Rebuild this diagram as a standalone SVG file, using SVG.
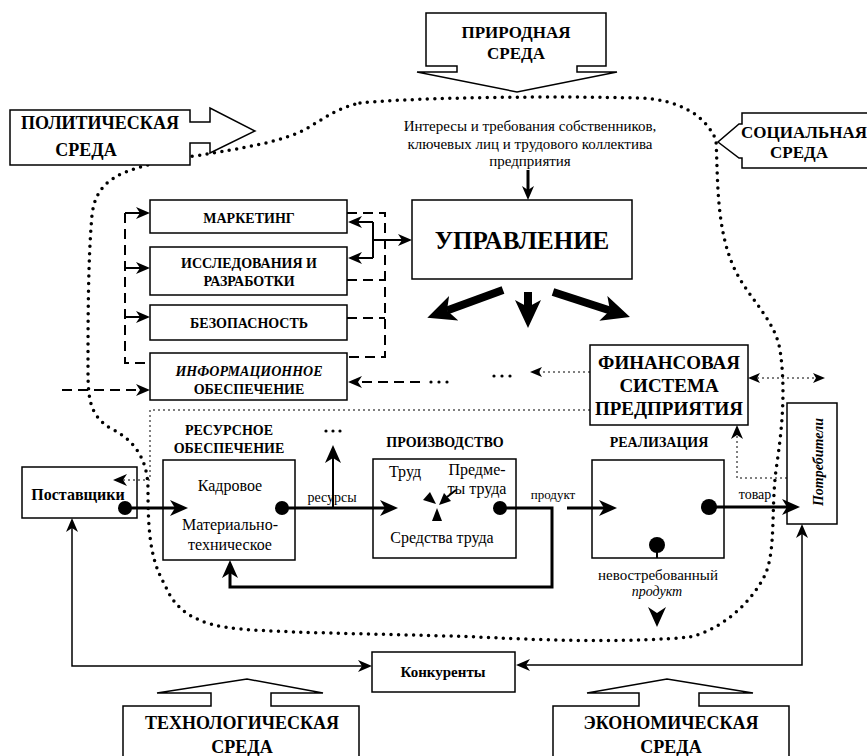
<svg xmlns="http://www.w3.org/2000/svg" width="867" height="756" viewBox="0 0 867 756">
<style>
.box{fill:#fff;stroke:#000;stroke-width:1.5}
.shape{fill:#fff;stroke:#000;stroke-width:1.5;stroke-linejoin:miter}
.t{font-family:"Liberation Serif","Times New Roman",serif;fill:#000}
.b{font-weight:bold}
.i{font-style:italic}
.c{text-anchor:middle}
.dash{fill:none;stroke:#000;stroke-width:2;stroke-dasharray:10 6}
.dot{fill:none;stroke:#000;stroke-width:1;stroke-dasharray:2 3}
.thick{fill:none;stroke:#000;stroke-width:3}
.mid{fill:none;stroke:#000;stroke-width:2}
.thin{fill:none;stroke:#000;stroke-width:1.5}
.big{fill:none;stroke:#000;stroke-width:8}
.blob{fill:none;stroke:#000;stroke-width:3.5;stroke-dasharray:0 7.5;stroke-linecap:round}
.blk{fill:#000;stroke:none}
</style>
<defs>
<marker id="mL" markerUnits="userSpaceOnUse" markerWidth="18" markerHeight="16" refX="5" refY="8" orient="auto-start-reverse"><path d="M0,0 L18,8 L0,16 L5,8 z" fill="#000"/></marker>
<marker id="mM" markerUnits="userSpaceOnUse" markerWidth="14" markerHeight="12" refX="4" refY="6" orient="auto-start-reverse"><path d="M0,0 L14,6 L0,12 L4,6 z" fill="#000"/></marker>
<marker id="mS" markerUnits="userSpaceOnUse" markerWidth="12" markerHeight="10" refX="3" refY="5" orient="auto-start-reverse"><path d="M0,0 L12,5 L0,10 L3,5 z" fill="#000"/></marker>
<marker id="mBig" markerUnits="userSpaceOnUse" markerWidth="28" markerHeight="26" refX="7" refY="13" orient="auto"><path d="M0,0 L28,13 L0,26 L7,13 z" fill="#000"/></marker>
</defs>
<rect width="867" height="756" fill="#fff"/>

<g id="boundary">
<path class="blob" d="M360,103 C420,97 560,96 640,98 C680,100 705,115 716,140 C718,180 716,230 735,270 C750,300 775,320 780,350 C786,390 782,430 776,470 C771,510 776,550 765,575 C750,605 720,630 690,637 C640,642 560,641 500,638 C420,634 300,634 240,629 C195,625 175,610 165,585 C150,560 148,530 148,490 C148,460 135,440 110,428 C90,415 88,400 88,370 C88,320 88,260 92,215 C96,180 120,170 170,160 C230,150 270,145 300,132 C320,122 335,108 360,103 Z"/>
</g>

<g id="n-prirod">
<path class="shape" d="M426,13 H606 V66 H577 V72 H617 L517,92 L417,72 H457 V66 H426 Z"/>
<text class="t b c" x="516" y="38" font-size="17">ПРИРОДНАЯ</text>
<text class="t b c" x="516" y="59" font-size="17">СРЕДА</text>
</g>
<g id="n-polit">
<path class="shape" d="M10,110 H190 V122 H210 V108 L255,131 L210,153 V143 H190 V165 H10 Z"/>
<text class="t b c" x="100" y="129" font-size="18">ПОЛИТИЧЕСКАЯ</text>
<text class="t b c" x="86" y="156" font-size="18">СРЕДА</text>
</g>
<g id="n-social">
<path class="shape" d="M870,113 H742 V124 H739 L718,142 L739,158 H742 V168 H870 Z"/>
<text class="t b c" x="804" y="138" font-size="17">СОЦИАЛЬНАЯ</text>
<text class="t b c" x="799" y="158" font-size="17">СРЕДА</text>
</g>
<g id="n-tech">
<path class="shape" d="M123,760 V706 H211 V693 H157 L247,679 L323,693 H271 V706 H359 V760 Z"/>
<text class="t b c" x="242" y="729" font-size="18">ТЕХНОЛОГИЧЕСКАЯ</text>
<text class="t b c" x="242" y="753" font-size="18">СРЕДА</text>
</g>
<g id="n-econ">
<path class="shape" d="M553,760 V706 H639 V693 H587 L667,679 L753,693 H699 V706 H789 V760 Z"/>
<text class="t b c" x="671" y="729" font-size="18">ЭКОНОМИЧЕСКАЯ</text>
<text class="t b c" x="671" y="753" font-size="18">СРЕДА</text>
</g>

<g id="n-interests">
<text class="t c" x="530" y="131" font-size="15">Интересы и требования собственников,</text>
<text class="t c" x="530" y="149" font-size="15">ключевых лиц и трудового коллектива</text>
<text class="t c" x="530" y="166" font-size="15">предприятия</text>
</g>

<g id="n-upr">
<rect class="box" x="412" y="200" width="220" height="79"/>
<text class="t b c" x="522" y="249" font-size="25">УПРАВЛЕНИЕ</text>
</g>
<g id="n-mark">
<rect class="box" x="150" y="200" width="197" height="33"/>
<text class="t b c" x="249" y="223" font-size="14">МАРКЕТИНГ</text>
</g>
<g id="n-issl">
<rect class="box" x="150" y="247" width="197" height="48"/>
<text class="t b c" x="249" y="268" font-size="14">ИССЛЕДОВАНИЯ И</text>
<text class="t b c" x="249" y="286" font-size="14">РАЗРАБОТКИ</text>
</g>
<g id="n-bez">
<rect class="box" x="150" y="305" width="197" height="35"/>
<text class="t b c" x="249" y="328" font-size="14">БЕЗОПАСНОСТЬ</text>
</g>
<g id="n-inform">
<rect class="box" x="150" y="353" width="197" height="47"/>
<text class="t b i c" x="249" y="376" font-size="14">ИНФОРМАЦИОННОЕ</text>
<text class="t b c" x="249" y="394" font-size="14">ОБЕСПЕЧЕНИЕ</text>
</g>
<g id="n-fin">
<rect class="box" x="590" y="345" width="158" height="80"/>
<text class="t b c" x="669" y="369" font-size="19">ФИНАНСОВАЯ</text>
<text class="t b c" x="669" y="392" font-size="19">СИСТЕМА</text>
<text class="t b c" x="669" y="415" font-size="19">ПРЕДПРИЯТИЯ</text>
</g>

<g id="n-post">
<rect class="box" x="22" y="467" width="115" height="51"/>
<text class="t b c" x="78" y="500" font-size="16">Поставщики</text>
</g>
<g id="n-res">
<text class="t b c" x="229" y="435" font-size="14">РЕСУРСНОЕ</text>
<text class="t b c" x="229" y="453" font-size="14">ОБЕСПЕЧЕНИЕ</text>
<rect class="box" x="163" y="460" width="132" height="100"/>
<text class="t c" x="230" y="491" font-size="16">Кадровое</text>
<text class="t c" x="230" y="530" font-size="16">Материально-</text>
<text class="t c" x="230" y="550" font-size="16">техническое</text>
</g>
<g id="n-prod">
<text class="t b c" x="445" y="447" font-size="14">ПРОИЗВОДСТВО</text>
<rect class="box" x="373" y="459" width="143" height="99"/>
<text class="t c" x="405" y="477" font-size="16">Труд</text>
<text class="t c" x="477" y="475" font-size="16">Предме-</text>
<text class="t c" x="477" y="494" font-size="16">ты труда</text>
<text class="t c" x="442" y="543" font-size="16">Средства труда</text>
<polygon class="blk" points="436,504 423,500 430,492"/>
<line class="mid" x1="447" y1="497" x2="456" y2="490"/>
<polygon class="blk" points="439,505 451,501 444,493"/>
<polygon class="blk" points="437,508 432,521 442,521"/>
</g>
<g id="n-real">
<text class="t b c" x="659" y="447" font-size="14">РЕАЛИЗАЦИЯ</text>
<rect class="box" x="592" y="460" width="132" height="98"/>
</g>
<g id="n-potr">
<rect class="box" x="787" y="403" width="50" height="121"/>
<text class="t b i c" transform="translate(823,462) rotate(-90)" x="0" y="0" font-size="14">Потребители</text>
</g>
<g id="n-konk">
<rect class="box" x="372" y="652" width="143" height="40"/>
<text class="t b c" x="443" y="677" font-size="15">Конкуренты</text>
</g>

<g id="connectors">
<line class="thick" x1="528" y1="170" x2="528" y2="190" marker-end="url(#mM)"/>
<line class="big" x1="503" y1="290" x2="447" y2="310.6" marker-end="url(#mBig)"/>
<line class="big" x1="528" y1="292" x2="528" y2="307" marker-end="url(#mBig)"/>
<line class="big" x1="553" y1="292" x2="610" y2="310.5" marker-end="url(#mBig)"/>

<path class="dash" d="M125,213 V363 H150"/>
<line class="mid" x1="125" y1="213" x2="140" y2="213" marker-end="url(#mM)"/>
<line class="mid" x1="125" y1="268" x2="140" y2="268" marker-end="url(#mM)"/>
<line class="mid" x1="125" y1="317" x2="140" y2="317" marker-end="url(#mM)"/>
<line class="dash" x1="62" y1="390" x2="140" y2="390" marker-end="url(#mM)"/>

<path class="dash" d="M347,213 H385 V357 H347"/>
<line class="dash" x1="347" y1="280" x2="385" y2="280"/>
<line class="dash" x1="347" y1="318" x2="385" y2="318"/>
<path class="mid" d="M373,222 V258"/>
<line class="mid" x1="373" y1="222" x2="358" y2="222" marker-end="url(#mM)"/>
<line class="mid" x1="373" y1="258" x2="358" y2="258" marker-end="url(#mM)"/>
<line class="mid" x1="373" y1="240" x2="402" y2="240" marker-end="url(#mM)"/>

<line class="dash" x1="420" y1="382" x2="358" y2="382" marker-end="url(#mM)"/>
<circle class="blk" cx="431" cy="382" r="1.6"/>
<circle class="blk" cx="439" cy="382" r="1.6"/>
<circle class="blk" cx="447" cy="382" r="1.6"/>
<circle class="blk" cx="494" cy="376" r="1.6"/>
<circle class="blk" cx="502" cy="376" r="1.6"/>
<circle class="blk" cx="510" cy="376" r="1.6"/>
<line class="dot" x1="590" y1="372" x2="539" y2="372" marker-end="url(#mS)"/>
<line class="dot" x1="757" y1="378" x2="816" y2="378" marker-start="url(#mS)" marker-end="url(#mS)"/>
<path class="dot" d="M787,478 H737 V435" marker-end="url(#mM)"/>
<path class="dot" d="M590,410 H150 V480 H123" marker-end="url(#mM)"/>

<circle class="blk" cx="125" cy="508" r="7"/>
<line class="thick" x1="125" y1="508" x2="175" y2="508" marker-end="url(#mL)"/>
<circle class="blk" cx="282" cy="508" r="7"/>
<line class="thick" x1="282" y1="508" x2="385" y2="508" marker-end="url(#mL)"/>
<text class="t c" x="332" y="502" font-size="14">ресурсы</text>
<line class="mid" x1="333" y1="508" x2="333" y2="458" marker-end="url(#mL)"/>
<circle class="blk" cx="326" cy="431" r="1.6"/>
<circle class="blk" cx="333" cy="431" r="1.6"/>
<circle class="blk" cx="340" cy="431" r="1.6"/>

<circle class="blk" cx="500" cy="508" r="7"/>
<path class="thick" d="M500,508 H552 V587 H230 V573" marker-end="url(#mL)"/>
<text class="t c" x="553" y="499" font-size="13">продукт</text>
<line class="thick" x1="567" y1="508" x2="604" y2="508" marker-end="url(#mL)"/>

<circle class="blk" cx="709" cy="507" r="8"/>
<line class="thick" x1="709" y1="507" x2="787" y2="507" marker-end="url(#mL)"/>
<text class="t c" x="755" y="499" font-size="14">товар</text>
<circle class="blk" cx="657" cy="545" r="8"/>
<line class="mid" x1="657" y1="545" x2="657" y2="558"/>
<text class="t c" x="658" y="580" font-size="15">невостребованный</text>
<text class="t i c" x="657" y="596" font-size="14">продукт</text>
<polygon class="blk" points="648,607 657,613 666,607 657,627"/>

<path class="thin" d="M72,528 V666 H362" marker-start="url(#mM)" marker-end="url(#mM)"/>
<path class="thin" d="M802,534 V665 H526" marker-start="url(#mM)" marker-end="url(#mM)"/>
</g>
</svg>
